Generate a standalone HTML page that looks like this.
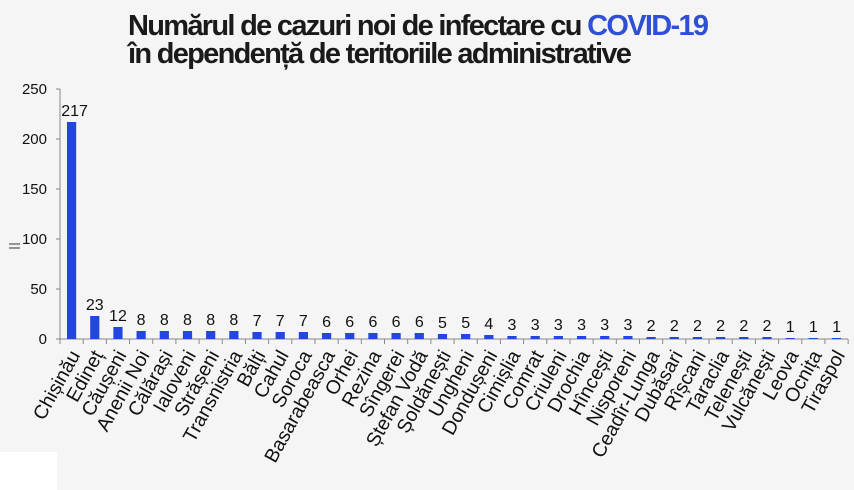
<!DOCTYPE html>
<html><head><meta charset="utf-8"><style>
html,body{margin:0;padding:0;background:#f5f5f5;}
body{width:854px;height:490px;overflow:hidden;position:relative;font-family:"Liberation Sans",Arial,sans-serif;}
.t{position:absolute;left:128px;font-weight:bold;font-size:29px;line-height:29px;letter-spacing:-1.7px;color:#1a1a1a;white-space:nowrap;}
</style></head><body>
<div class="t" style="top:12px">Numărul de cazuri noi de infectare cu <span style="color:#2e4fd6">COVID-19</span></div>
<div class="t" style="top:40px">în dependență de teritoriile administrative</div>
<div style="position:absolute;left:0;top:452px;width:57px;height:38px;background:#fff"></div>
<svg id="s" width="854" height="490" style="position:absolute;left:0;top:0" xmlns="http://www.w3.org/2000/svg"></svg>
<script>
var names=["Chișinău","Edineț","Căușeni","Anenii Noi","Călărași","Ialoveni","Strășeni","Transnistria","Bălți","Cahul","Soroca","Basarabeasca","Orhei","Rezina","Sîngerei","Ștefan Vodă","Șoldănești","Ungheni","Dondușeni","Cimișlia","Comrat","Criuleni","Drochia","Hîncești","Nisporeni","Ceadîr-Lunga","Dubăsari","Rîșcani","Taraclia","Telenești","Vulcănești","Leova","Ocnița","Tiraspol"];
var vals=[217,23,12,8,8,8,8,8,7,7,7,6,6,6,6,6,5,5,4,3,3,3,3,3,3,2,2,2,2,2,2,1,1,1];
var h='';
var x0=60,y0=339,w=23.18;
h+='<line x1="60" y1="89" x2="60" y2="339" stroke="#888"/>';
h+='<line x1="60" y1="339" x2="848" y2="339" stroke="#888"/>';
for(var v=0;v<=250;v+=50){var y=y0-v;h+='<line x1="56" y1="'+y+'" x2="60" y2="'+y+'" stroke="#888"/><text x="47" y="'+(y+5)+'" font-size="15" text-anchor="end" font-family="Liberation Sans,Arial,sans-serif" fill="#111">'+v+'</text>';}
for(var i=0;i<=34;i++){var x=x0+w*i;h+='<line x1="'+x+'" y1="339" x2="'+x+'" y2="344" stroke="#888"/>';}
for(var i=0;i<34;i++){var c=x0+w*(i+0.5);var v=vals[i];
h+='<rect x="'+(c-4.6)+'" y="'+(y0-v)+'" width="9.2" height="'+v+'" fill="#2446e0"/>';
h+='<text x="'+(i==0?c+3:c)+'" y="'+(y0-v-6)+'" font-size="16" text-anchor="middle" font-family="Liberation Sans,Arial,sans-serif" fill="#111">'+v+'</text>';
h+='<text transform="translate('+(c+9)+',355) rotate(-61)" font-size="19.5" text-anchor="end" font-family="Liberation Sans,Arial,sans-serif" fill="#111">'+names[i]+'</text>';}
h+='<line x1="9" y1="244" x2="20" y2="244" stroke="#333"/><line x1="9" y1="248" x2="20" y2="248" stroke="#333"/>';
document.getElementById('s').innerHTML=h;
</script>
</body></html>
